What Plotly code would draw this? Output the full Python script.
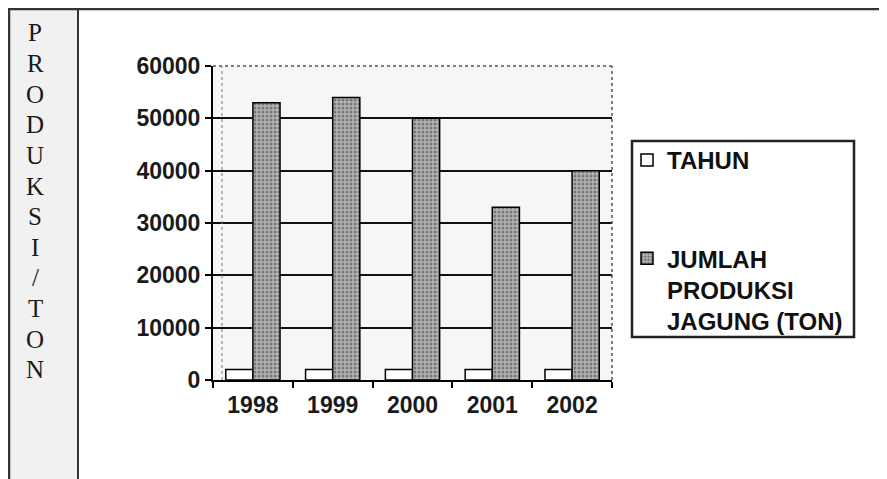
import plotly.graph_objects as go

years = ["1998", "1999", "2000", "2001", "2002"]
tahun = [1998, 1999, 2000, 2001, 2002]
produksi = [53000, 54000, 50000, 33000, 40000]
side_label = ["P", "R", "O", "D", "U", "K", "S", "I", "/", "T", "O", "N"]

OFF = 8  # page body margin
W, H = 887 - OFF, 479 - OFF
# plot area in screen pixels
L, R, T, B = 213, 612, 66, 380

fig = go.Figure()
fig.add_trace(go.Bar(
    x=years, y=tahun, name="TAHUN", legendgroup="a",
    marker=dict(color="white", line=dict(color="black", width=1.5)),
))
fig.add_trace(go.Bar(
    x=years, y=produksi, name="JUMLAH<br>PRODUKSI<br>JAGUNG (TON)", legendgroup="b",
    marker=dict(color="#a8a8a8", line=dict(color="black", width=1.5),
                pattern=dict(shape=".", fgcolor="#3a3a3a", bgcolor="#b4b4b4",
                             size=4, solidity=0.45)),
))

def px(x):
    return (x - L) / (R - L)

def py(y):
    return (B - y) / (B - T)

shapes = [
    # left label panel
    dict(type="rect", xref="paper", yref="paper", x0=px(8), x1=px(78), y0=py(479), y1=py(8),
         fillcolor="#f1f1f1", line=dict(width=0), layer="below"),
    dict(type="line", xref="paper", yref="paper", x0=px(0), x1=px(887), y0=py(9), y1=py(9),
         line=dict(color="#333", width=2.5)),
    dict(type="line", xref="paper", yref="paper", x0=px(9), x1=px(9), y0=py(8), y1=py(479),
         line=dict(color="#333", width=2.5)),
    dict(type="line", xref="paper", yref="paper", x0=px(78), x1=px(78), y0=py(8), y1=py(479),
         line=dict(color="#333", width=2)),
    # dotted plot-area border (top and right)
    dict(type="line", xref="paper", yref="paper", x0=0, x1=1, y0=1, y1=1,
         line=dict(color="#555", width=1.5, dash="dot")),
    dict(type="line", xref="paper", yref="paper", x0=1, x1=1, y0=0, y1=1,
         line=dict(color="#555", width=1.5, dash="dot")),
    dict(type="line", xref="paper", yref="paper", x0=px(222), x1=px(222), y0=0, y1=1,
         line=dict(color="#777", width=1, dash="dot")),
    # legend box
    dict(type="rect", xref="paper", yref="paper", x0=px(632), x1=px(854), y0=py(337), y1=py(141),
         fillcolor="rgba(0,0,0,0)", line=dict(color="#222", width=2.5)),
]

annotations = []
for i, ch in enumerate(side_label):
    annotations.append(dict(
        xref="paper", yref="paper", x=px(35), y=py(33 + i * 30.6),
        xanchor="center", yanchor="middle", text=ch, showarrow=False,
        font=dict(family="Liberation Serif, Times New Roman, serif", size=25, color="#1a1a1a"),
    ))

fig.update_layout(
    width=W, height=H,
    margin=dict(l=L - OFF, r=W - (R - OFF), t=T - OFF, b=H - (B - OFF)),
    paper_bgcolor="white",
    plot_bgcolor="#f6f6f6",
    barmode="group", bargap=0.32, bargroupgap=0.0,
    font=dict(family="Liberation Sans, Arial, sans-serif", size=23, color="#1a1a1a"),
    showlegend=True,
    legend=dict(
        x=px(627), y=py(138), xanchor="left", yanchor="top",
        bgcolor="rgba(0,0,0,0)", borderwidth=0,
        traceorder="grouped", tracegroupgap=64, valign="top",
        font=dict(size=24, color="#111", weight="bold"), itemwidth=30,
    ),
    shapes=shapes,
    annotations=annotations,
)
fig.update_xaxes(
    showline=True, linecolor="black", linewidth=2, ticks="outside", tickson="boundaries",
    ticklen=6, tickwidth=1.5, tickcolor="black", showgrid=False, ticklabelstandoff=3,
    tickfont=dict(size=23, color="#1a1a1a", weight="bold"),
)
fig.update_yaxes(
    range=[0, 60000], dtick=10000, showline=True, linecolor="black", linewidth=2,
    ticks="outside", ticklen=6, tickwidth=1.5, tickcolor="black",
    showgrid=True, gridcolor="#111", gridwidth=1.8, zeroline=False,
    tickfont=dict(size=23, color="#1a1a1a", weight="bold"), tickformat="d",
)

fig.write_html("out.html")
